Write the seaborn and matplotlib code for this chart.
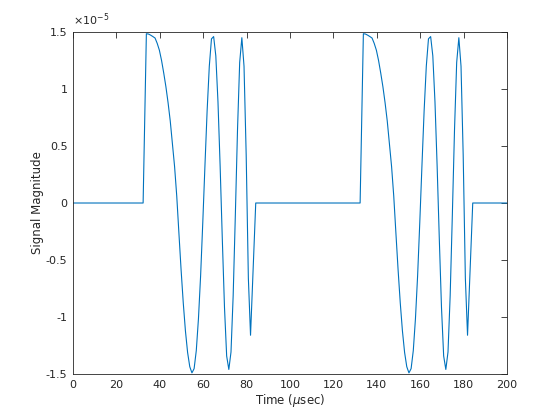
import numpy as np
import pandas as pd
import matplotlib
matplotlib.use("Agg")
import matplotlib.pyplot as plt
import seaborn as sns

# ---- data (signal in units of 1e-5) ----
# one chirp pulse: times relative to pulse start (usec) and values
pulse_rel_times = [0.0, 1.5, 2.5, 3.5, 4.5, 5.5, 6.5, 7.5, 8.5, 9.5, 10.5,
                   11.5, 12.5, 13.5, 14.5, 15.5, 16.5, 17.5, 18.5, 19.5, 20.5,
                   21.5, 22.5, 23.5, 24.5, 25.5, 26.5, 27.5, 28.5, 29.5, 30.5,
                   31.5, 32.5, 33.5, 34.5, 35.5, 36.5, 37.5, 38.5, 39.5, 40.5,
                   41.5, 42.5, 43.5, 44.5, 45.5, 46.5, 47.5, 48.5, 49.5, 51.9]
pulse_values = [0.0, 1.485, 1.482, 1.472, 1.460, 1.447, 1.400, 1.340, 1.250, 1.140, 1.020,
                0.880, 0.720, 0.520, 0.320, 0.060, -0.266, -0.586, -0.876, -1.122, -1.311,
                -1.436, -1.49, -1.453, -1.295, -1.015, -0.636, -0.169, 0.331, 0.810, 1.200,
                1.440, 1.46, 1.291, 0.886, 0.319, -0.320, -0.916, -1.342, -1.46, -1.307,
                -0.812, -0.106, 0.642, 1.233, 1.45, 1.200, 0.420, -0.66, -1.16, 0.0]
pulse_starts = [32.3, 132.3]
t_start, t_end = 0.0, 200.0

xticks = [0, 20, 40, 60, 80, 100, 120, 140, 160, 180, 200]
yticks = [-1.5, -1, -0.5, 0, 0.5, 1, 1.5]
ytick_labels = ["-1.5", "-1", "-0.5", "0", "0.5", "1", "1.5"]

# build the full series
times = [t_start]
vals = [0.0]
for s in pulse_starts:
    times += [s + r for r in pulse_rel_times]
    vals += pulse_values
times.append(t_end)
vals.append(0.0)
df = pd.DataFrame({"Time": times, "Signal": vals})

sns.set_style("white")
plt.rcParams["font.family"] = ["DejaVu Sans"]
plt.rcParams["mathtext.fontset"] = "dejavusans"

fig = plt.figure(figsize=(5.6, 4.2), dpi=100)
ax = fig.add_axes([0.1304, 0.1095, 0.775, 0.8143])

sns.lineplot(data=df, x="Time", y="Signal", sort=False, estimator=None,
             color="#0072BD", linewidth=0.8, ax=ax)

ax.set_xlim(0, 200)
ax.set_ylim(-1.5, 1.5)
ax.set_xticks(xticks)
ax.set_xticklabels([str(v) for v in xticks])
ax.set_yticks(yticks)
ax.set_yticklabels(ytick_labels)

tick_col = "#262626"
ax.tick_params(direction="in", length=4, width=0.6, colors=tick_col,
               labelsize=8, top=True, right=True, pad=4)
for sp in ax.spines.values():
    sp.set_visible(True)
    sp.set_color(tick_col)
    sp.set_linewidth(0.6)

ax.set_xlabel(r"Time ($\mu$sec)", fontsize=8.5, color=tick_col, labelpad=2)
ax.set_ylabel("Signal Magnitude", fontsize=8.5, color=tick_col, labelpad=1.5)
ax.text(0.0, 1.012, r"$\times10^{-5}$", transform=ax.transAxes, fontsize=8,
        color=tick_col, ha="left", va="bottom")

fig.savefig("out.png", dpi=100)
